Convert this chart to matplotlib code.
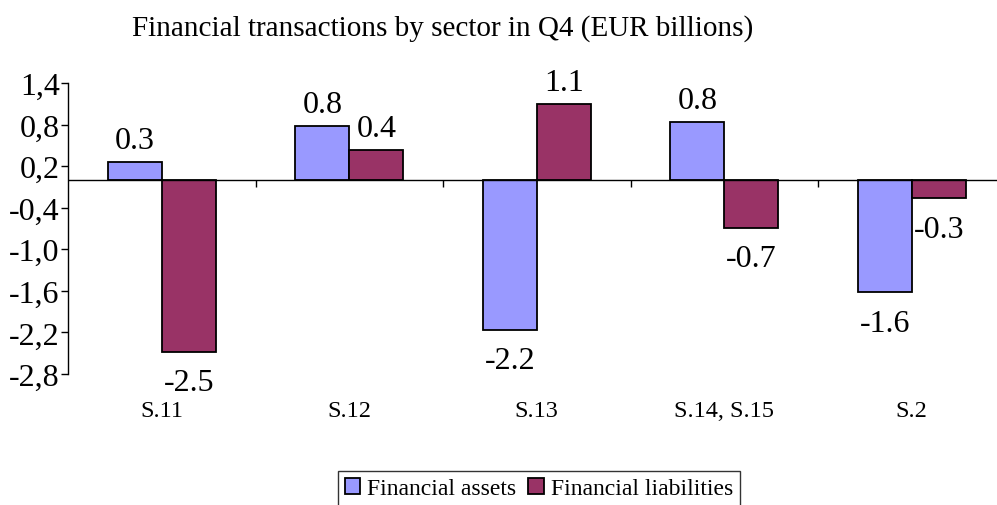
import numpy as np
import matplotlib.pyplot as plt

plt.rcParams['font.family'] = ['Liberation Serif', 'DejaVu Serif']

sectors = ['S.11', 'S.12', 'S.13', 'S.14, S.15', 'S.2']
assets = [0.26, 0.78, -2.16, 0.84, -1.62]
liabilities = [-2.48, 0.43, 1.10, -0.69, -0.26]
yticks = [-2.8, -2.2, -1.6, -1.0, -0.4, 0.2, 0.8, 1.4]

fig = plt.figure(figsize=(9.97, 5.06), dpi=100)
# the plot area runs a little past the right edge of the figure
ax = fig.add_axes([68 / 997, 131 / 506, 937.5 / 997, 291 / 506])

x = np.arange(len(sectors))
w = 0.288
b1 = ax.bar(x - w / 2, assets, w, color='#9999FF', edgecolor='black', linewidth=1.3,
            label='Financial assets')
b2 = ax.bar(x + w / 2, liabilities, w, color='#993366', edgecolor='black', linewidth=1.3,
            label='Financial liabilities')

for bars, vals in [(b1, assets), (b2, liabilities)]:
    for rect, v in zip(bars, vals):
        cx = rect.get_x() + rect.get_width() / 2
        if v >= 0:
            ax.annotate('{:.1f}'.format(v), (cx, v), xytext=(0, 5), textcoords='offset points',
                        ha='center', va='bottom', fontsize=23)
        else:
            ax.annotate('{:.1f}'.format(v), (cx, v), xytext=(0, -12), textcoords='offset points',
                        ha='center', va='top', fontsize=23)

ax.set_xlim(-0.5, len(sectors) - 0.5)
ax.set_ylim(-2.8, 1.4)
ax.set_yticks(yticks)
ax.set_yticklabels(['{:.1f}'.format(t).replace('.', ',') for t in yticks], fontsize=23)
ax.tick_params(axis='y', direction='out', length=5, width=1, pad=1)

ax.set_xticks(x)
ax.set_xticklabels(sectors, fontsize=17.5)
ax.tick_params(axis='x', length=0, pad=19)

ax.axhline(0, color='black', linewidth=1)
# separators between categories
ax.vlines(x[:-1] + 0.5, -0.1, 0, color='black', linewidth=1)

for s in ['top', 'right', 'bottom']:
    ax.spines[s].set_visible(False)
ax.spines['left'].set_linewidth(1)

fig.text(443 / 997, 477 / 506, 'Financial transactions by sector in Q4 (EUR billions)',
         ha='center', va='center', fontsize=21)

leg = fig.legend(loc='upper center', bbox_to_anchor=(539 / 997, 34 / 506), ncol=2,
                 fontsize=17, frameon=True, fancybox=False, edgecolor='black',
                 handlelength=0.65, handleheight=0.65, handletextpad=0.3, columnspacing=0.5,
                 borderpad=0.3, borderaxespad=0)
leg.get_frame().set_linewidth(1)

fig.savefig('out.png', dpi=100)
